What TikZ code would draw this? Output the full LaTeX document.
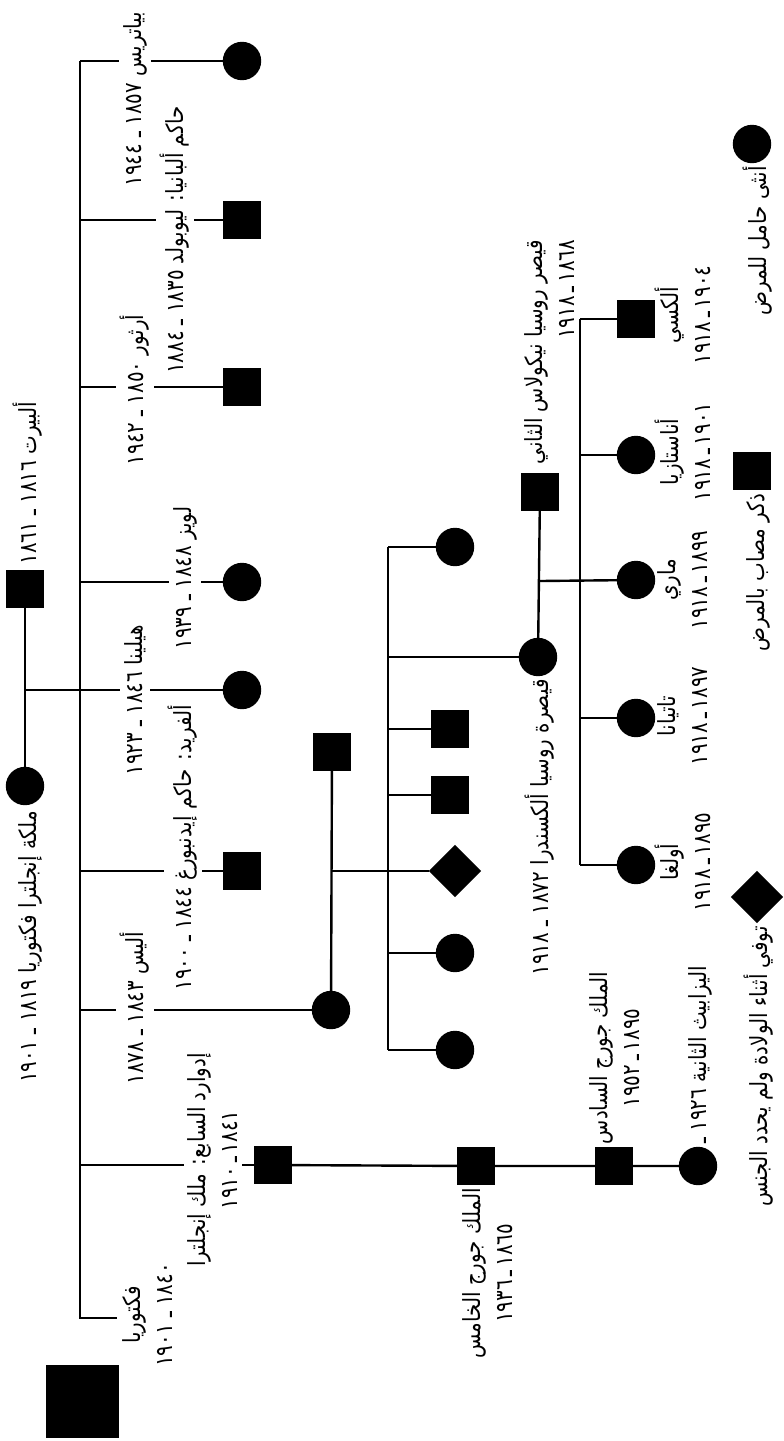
\documentclass[tikz,border=0pt]{standalone}
\usepackage{fontspec}
\usetikzlibrary{shapes.geometric}
\newfontfamily\arabicfont[Script=Arabic, FakeStretch=0.84]{DejaVu Sans}
\TeXXeTstate=1
\newcommand{\artxt}[1]{\beginR #1\endR}
\tikzset{
  female/.style={draw, circle, fill=black, minimum size=18pt, inner sep=0pt},
  male/.style={draw, rectangle, fill=black, minimum size=18pt, inner sep=0pt},
  unknown/.style={draw, diamond, fill=black, minimum size=25pt, inner sep=0pt},
  lbl/.style={rotate=90, font=\arabicfont\fontsize{11.8}{16}\selectfont, inner sep=1pt},
  onlbl/.style={lbl, fill=white, inner sep=2pt},
}
\begin{document}
\begin{tikzpicture}[x=0.5pt, y=-0.5pt, line width=1.2pt]
\useasboundingbox (0,0) rectangle (783,1441);

% generation 1
\node[male] (albert) at (25,589) {};
\node[female] (victoria) at (25,786) {};

% generation 2
\node[female] (beatrice) at (242,61) {};
\node[male] (leopold) at (242,220) {};
\node[male] (arthur) at (242,387) {};
\node[female] (louise) at (242,582) {};
\node[female] (helena) at (242,690) {};
\node[male] (alfred) at (242,871) {};
\node[female] (alice) at (331,1010) {};
\node[male] (edward) at (273,1165) {};
\node[male] (hesse) at (332,752) {};

% generation 3
\node[female] (acirc1) at (455,547) {};
\node[female] (alexandra) at (538,657) {};
\node[male] (asq1) at (450,729) {};
\node[male] (asq2) at (450,795) {};
\node[unknown] (adia) at (455,871) {};
\node[female] (acirc2) at (455,953) {};
\node[female] (acirc3) at (455,1050) {};
\node[male] (nicholas) at (540,492) {};
\node[male] (george5) at (476,1166) {};

% generation 4
\node[male] (alexei) at (636,319) {};
\node[female] (anastasia) at (636,455) {};
\node[female] (marie) at (636,580) {};
\node[female] (tatiana) at (636,718) {};
\node[female] (olga) at (636,865) {};
\node[male] (george6) at (614,1166) {};
\node[female] (elizabeth) at (698,1166) {};

% key
\node[female] (keyf) at (752,144) {};
\node[male] (keym) at (752,471) {};
\node[unknown] (keyd) at (757,897) {};

\fill (46,1365) rectangle (119,1438);

\coordinate (mv) at (25,690);
\coordinate (bar1t) at (80,61);
\coordinate (bar1b) at (80,1318);
\coordinate (vicky) at (117,1318);
\coordinate (mh) at (331,871);
\coordinate (bar2t) at (388,547);
\coordinate (bar2b) at (388,1050);
\coordinate (mr) at (540,581);
\coordinate (bar3t) at (580,319);
\coordinate (bar3b) at (580,865);

\path[draw] (albert) -- (victoria);
\path[draw] (mv) -- (bar1t |- mv);
\path[draw] (bar1t) -- (bar1b) -- (vicky);
\foreach \k in {beatrice,leopold,arthur,louise,helena,alfred,alice,edward}
  \path[draw] (bar1t |- \k) -- (\k);
\path[draw] (edward) -- (george5) -- (george6) -- (elizabeth);

\path[draw] (hesse) -- (alice);
\path[draw] (mh) -- (adia);
\path[draw] (bar2t) -- (bar2b);
\foreach \k in {acirc1,alexandra,asq1,asq2,acirc2,acirc3}
  \path[draw] (bar2t |- \k) -- (\k);

\path[draw] (nicholas) -- (alexandra);
\path[draw] (mr) -- (marie);
\path[draw] (bar3t) -- (bar3b);
\foreach \k in {alexei,anastasia,tatiana,olga}
  \path[draw] (bar3t |- \k) -- (\k);

% labels
\node[lbl] (albertlbl) at (28,483) {\artxt{ألبيرت ١٨١٦ ـ ١٨٦١}};
\node[lbl] (victorialbl) at (30,947) {\artxt{ملكة إنجلترا فكتوريا ١٨١٩ ـ ١٩٠١}};
\node[onlbl] (beatricelbl) at (135,99) {\artxt{بياتريس ١٨٥٧ ـ ١٩٤٤}};
\node[onlbl] (leopoldlbl) at (175,240) {\artxt{حاكم ألبانيا: ليوبولد ١٨٣٥ ـ ١٨٨٤}};
\node[onlbl] (arthurlbl) at (135,390) {\artxt{أرثور ١٨٥٠ ـ ١٩٤٢}};
\node[onlbl] (louiselbl) at (185,578) {\artxt{لويز ١٨٤٨ ـ ١٩٣٩}};
\node[onlbl] (helenalbl) at (135,700) {\artxt{هيلينا ١٨٤٦ ـ ١٩٢٣}};
\node[onlbl] (alfredlbl) at (183,848) {\artxt{ألفريد: حاكم إيدنبورغ ١٨٤٤ ـ ١٩٠٠}};
\node[onlbl] (alicelbl) at (135,1008) {\artxt{أليس ١٨٤٣ ـ ١٨٧٨}};
\node[onlbl, align=center] (edwardlbl) at (213,1160) {\artxt{إدوارد السابع: ملك إنجلترا}\\\artxt{١٨٤١\,ـ\,١٩١٠}};
\node[lbl, align=center] (vickylbl) at (148,1315) {\artxt{فكتوريا}\\\artxt{١٨٤٠ ـ ١٩٠١}};

\node[lbl, align=right] (nicholaslbl) at (550,352) {\artxt{قيصر روسيا نيكولاس الثاني}\\\artxt{١٨٦٨\,ـ\,١٩١٨}};
\node[lbl, anchor=east] (alexandralbl) at ([xshift=1pt]alexandra.south) {\artxt{قيصرة روسيا ألكسندرا ١٨٧٢ ـ ١٩١٨}};
\node[lbl, align=center] (alexeilbl) at (683,315) {\artxt{ألكسي}\\\artxt{١٩٠٤\,ـ\,١٩١٨}};
\node[lbl, align=center] (anastasialbl) at (683,452) {\artxt{أناستازيا}\\\artxt{١٩٠١\,ـ\,١٩١٨}};
\node[lbl, align=center] (marielbl) at (683,580) {\artxt{ماري}\\\artxt{١٨٩٩\,ـ\,١٩١٨}};
\node[lbl, align=center] (tatianalbl) at (683,716) {\artxt{تاتيانا}\\\artxt{١٨٩٧\,ـ\,١٩١٨}};
\node[lbl, align=center] (olgalbl) at (683,862) {\artxt{أولغا}\\\artxt{١٨٩٥\,ـ\,١٩١٨}};

\node[lbl, align=center, anchor=east] (george5lbl) at ([xshift=6pt]george5.south) {\artxt{الملك جورج الخامس}\\\artxt{١٨٦٥\,ـ\,١٩٣٦}};
\node[lbl, align=center] (george6lbl) at (615,1058) {\artxt{الملك جورج السادس}\\\artxt{١٨٩٥\,ـ\,١٩٥٢}};
\node[lbl, anchor=west] (elizabethlbl) at ([xshift=1pt]elizabeth.north) {\artxt{اليزابيث الثانية ١٩٢٦ ـ}};

\node[lbl, anchor=east] (keyflbl) at ([xshift=3pt]keyf.south) {\artxt{أنثى حامل للمرض}};
\node[lbl, anchor=east] (keymlbl) at ([xshift=3pt]keym.south) {\artxt{ذكر مصاب بالمرض}};
\node[lbl, anchor=east] (keydlbl) at ([xshift=1pt]keyd.south) {\artxt{توفي أثناء الولادة ولم يحدد الجنس}};
\end{tikzpicture}
\end{document}
